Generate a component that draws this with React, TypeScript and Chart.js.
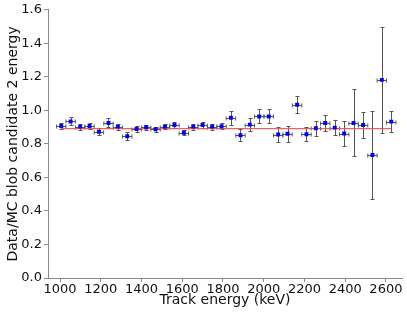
import React, { useEffect, useRef } from "react";
import { Chart, registerables } from "chart.js";

Chart.register(...registerables);

const xCenters = [1006, 1052, 1099, 1145, 1191, 1238, 1284, 1330, 1376, 1423, 1469, 1515, 1562, 1608, 1654, 1700, 1747, 1793, 1839, 1886, 1932, 1978, 2025, 2071, 2117, 2164, 2210, 2256, 2302, 2349, 2395, 2441, 2488, 2534, 2580, 2626];
const yValues = [0.907, 0.934, 0.903, 0.907, 0.872, 0.925, 0.903, 0.846, 0.889, 0.899, 0.887, 0.903, 0.913, 0.866, 0.903, 0.913, 0.903, 0.905, 0.956, 0.852, 0.915, 0.964, 0.964, 0.856, 0.86, 1.033, 0.858, 0.893, 0.925, 0.897, 0.862, 0.925, 0.913, 0.734, 1.182, 0.933];
const yErrors = [0.017, 0.024, 0.018, 0.018, 0.02, 0.027, 0.018, 0.025, 0.018, 0.016, 0.016, 0.016, 0.018, 0.015, 0.018, 0.018, 0.018, 0.018, 0.043, 0.036, 0.037, 0.042, 0.042, 0.045, 0.047, 0.05, 0.043, 0.045, 0.05, 0.043, 0.073, 0.2, 0.08, 0.264, 0.317, 0.063];
const xHalfWidth = 23;
const fitValue = 0.891;
const fitRange = [1006, 2626];
const xTicks = [1000, 1200, 1400, 1600, 1800, 2000, 2200, 2400, 2600];
const yTicks = [0, 0.2, 0.4, 0.6, 0.8, 1.0, 1.2, 1.4, 1.6];

const errorBarPlugin = {
  id: "errorBars",
  beforeDatasetsDraw(chart: any) {
    const { ctx, scales } = chart;
    const xs = scales.x;
    const ys = scales.y;
    ctx.save();
    ctx.strokeStyle = "#555555";
    ctx.lineWidth = 1;
    const cap = 2;
    for (let i = 0; i < xCenters.length; i++) {
      const px = Math.round(xs.getPixelForValue(xCenters[i])) + 0.5;
      const py = Math.round(ys.getPixelForValue(yValues[i])) + 0.5;
      const x0 = xs.getPixelForValue(xCenters[i] - xHalfWidth);
      const x1 = xs.getPixelForValue(xCenters[i] + xHalfWidth);
      const y0 = Math.round(ys.getPixelForValue(yValues[i] - yErrors[i])) + 0.5;
      const y1 = Math.round(ys.getPixelForValue(yValues[i] + yErrors[i])) + 0.5;
      ctx.beginPath();
      ctx.moveTo(x0, py);
      ctx.lineTo(x1, py);
      ctx.moveTo(x0, py - cap);
      ctx.lineTo(x0, py + cap);
      ctx.moveTo(x1, py - cap);
      ctx.lineTo(x1, py + cap);
      ctx.moveTo(px, y0);
      ctx.lineTo(px, y1);
      ctx.moveTo(px - cap, y0);
      ctx.lineTo(px + cap, y0);
      ctx.moveTo(px - cap, y1);
      ctx.lineTo(px + cap, y1);
      ctx.stroke();
    }
    ctx.restore();
  },
};

export default function App() {
  const ref = useRef<HTMLCanvasElement | null>(null);
  useEffect(() => {
    document.body.style.margin = "0";
    const canvas = ref.current;
    if (!canvas) return;
    const tickFont = { family: "'DejaVu Sans', sans-serif", size: 13 };
    const titleFont = { family: "'DejaVu Sans', sans-serif", size: 14 };
    const chart = new Chart(canvas, {
      type: "scatter",
      data: {
        datasets: [
          {
            type: "line",
            data: fitRange.map((x) => ({ x, y: fitValue })),
            borderColor: "rgba(235,80,80,0.9)",
            borderWidth: 1.3,
            pointRadius: 0,
            showLine: true,
            order: 2,
          } as any,
          {
            data: xCenters.map((x, i) => ({ x, y: yValues[i] })),
            backgroundColor: "#0000ff",
            borderColor: "#0000ff",
            pointStyle: "rect",
            pointRadius: 2.8,
            borderWidth: 0,
            order: 1,
          },
        ],
      },
      options: {
        responsive: false,
        animation: false,
        events: [],
        layout: { padding: { top: 7, right: 5, left: 0, bottom: 0 }, autoPadding: false },
        plugins: { legend: { display: false }, tooltip: { enabled: false } },
        scales: {
          x: {
            type: "linear",
            min: 941,
            max: 2679,
            afterBuildTicks: (s: any) => {
              s.ticks = xTicks.map((v) => ({ value: v }));
            },
            afterFit: (s: any) => {
              s.height = 35;
            },
            border: { color: "#8a8a8a", width: 1 },
            grid: { drawOnChartArea: false, drawTicks: true, tickLength: 4, color: "#8a8a8a" },
            ticks: { color: "#111", font: tickFont, padding: 0, maxRotation: 0, autoSkip: false, callback: (v: any) => String(v) },
            title: { display: true, text: "Track energy (keV)", color: "#111", font: titleFont, padding: { top: 0, bottom: 4 } },
          },
          y: {
            type: "linear",
            min: 0,
            max: 1.6,
            afterBuildTicks: (s: any) => {
              s.ticks = yTicks.map((v) => ({ value: v }));
            },
            afterFit: (s: any) => {
              s.width = 48;
            },
            border: { color: "#8a8a8a", width: 1 },
            grid: { drawOnChartArea: false, drawTicks: true, tickLength: 4, color: "#8a8a8a" },
            ticks: { color: "#111", font: tickFont, padding: 2, callback: (v: any) => Number(v).toFixed(1) },
            title: { display: true, text: "Data/MC blob candidate 2 energy", color: "#111", font: titleFont, padding: { top: 5, bottom: 0 } },
          },
        },
      },
      plugins: [errorBarPlugin],
    });
    return () => chart.destroy();
  }, []);
  return <canvas ref={ref} width={407} height={313} style={{ display: "block", width: 407, height: 313 }} />;
}
